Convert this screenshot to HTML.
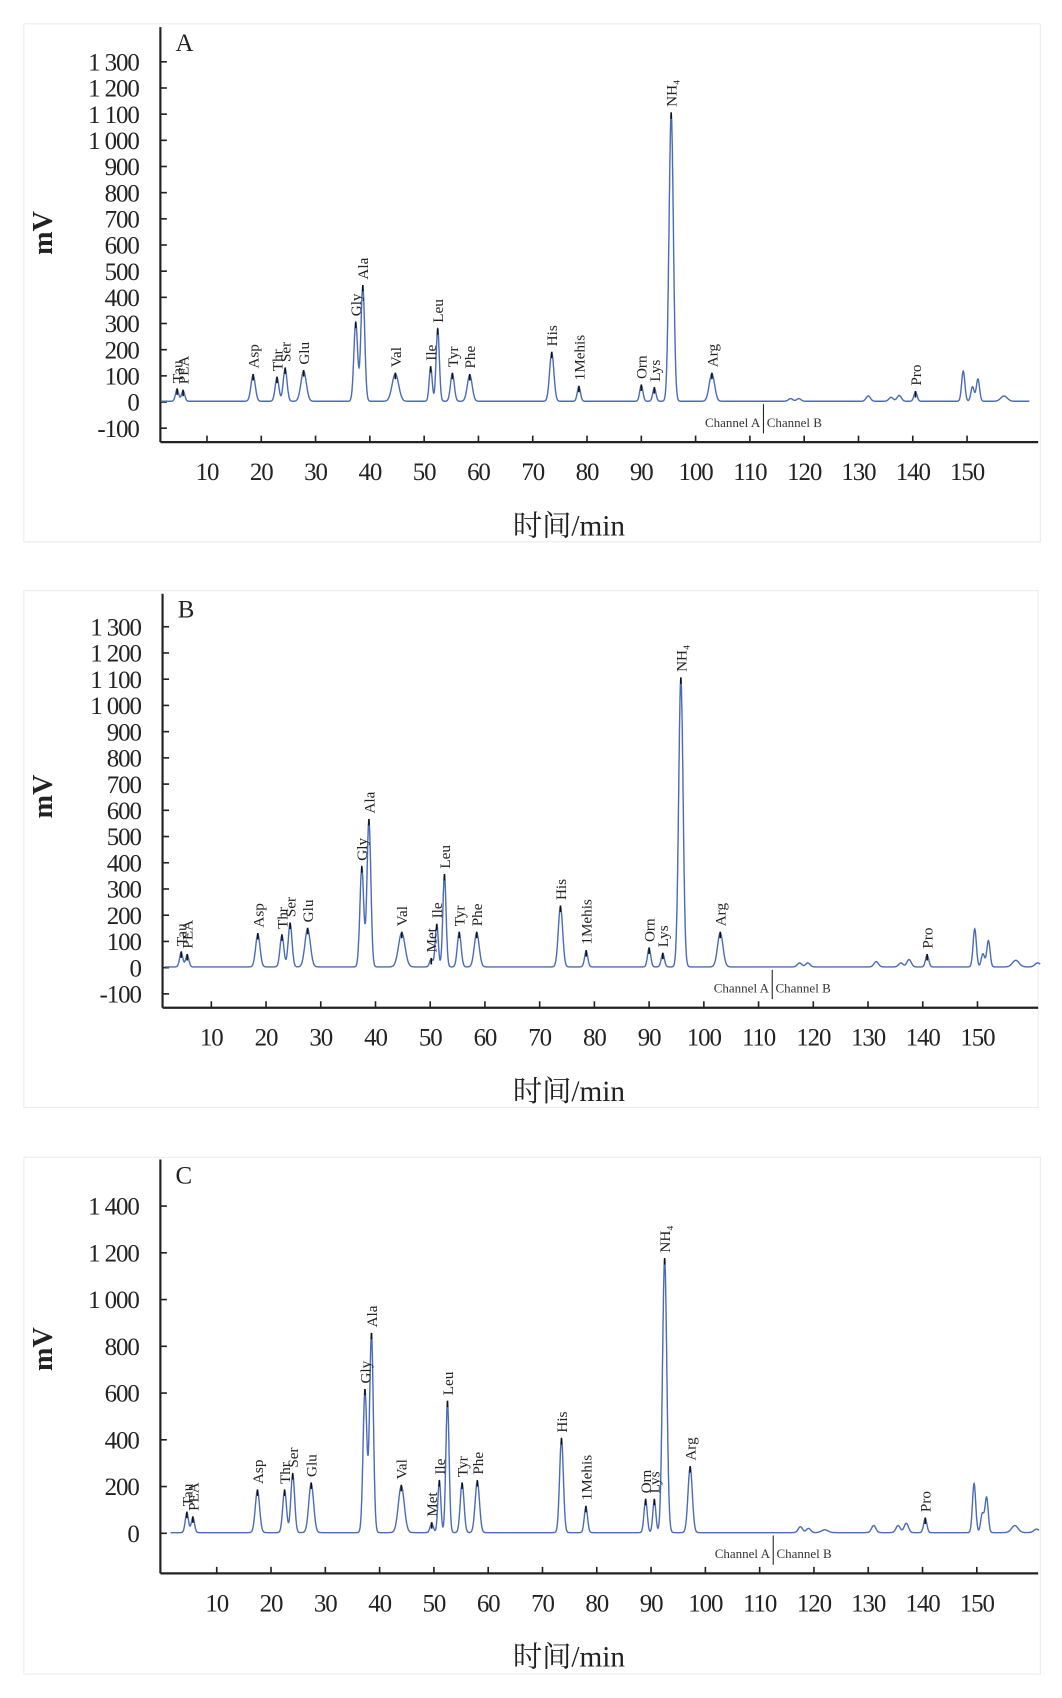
<!DOCTYPE html>
<html><head><meta charset="utf-8"><style>
html,body{margin:0;padding:0;background:#fff;}
svg{display:block;}
</style></head><body>
<svg id="s" width="1062" height="1698" viewBox="0 0 980 1567" preserveAspectRatio="none" xmlns="http://www.w3.org/2000/svg">
<rect x="0" y="0" width="980" height="1567" fill="#fff"/>
<rect x="22" y="22" width="938" height="478" fill="#fff" stroke="#ececec"/>
<rect x="22" y="545" width="936" height="477" fill="#fff" stroke="#ececec"/>
<rect x="22" y="1068" width="938" height="477" fill="#fff" stroke="#ececec"/>
<g id="g"></g>
</svg>
<script>
var NS="http://www.w3.org/2000/svg";var G=document.getElementById("g");
function el(t,a,txt){var e=document.createElementNS(NS,t);for(var k in a)e.setAttribute(k,a[k]);if(txt!==undefined)e.textContent=txt;G.appendChild(e);return e;}
function panel(P){
 var X=function(t){return P.x10+(t-10)*P.px10/10;};
 var Y=function(v){return P.y0-v*P.pxu;};
 el("line",{x1:P.ax,y1:P.top,x2:P.ax,y2:P.base,stroke:"#222","stroke-width":2});
 el("line",{x1:P.ax,y1:P.base,x2:958,y2:P.base,stroke:"#222","stroke-width":2});
 P.yt.forEach(function(v,i){var y=Y(v);el("line",{x1:P.ax,y1:y,x2:P.ax+6,y2:y,stroke:"#222","stroke-width":1.5});
  el("text",{x:P.ax-20,y:y+8,"text-anchor":"end","font-family":"Liberation Serif,serif","font-size":23,fill:"#222","letter-spacing":"-1"},P.yl[i]);});
 for(var t=10;t<=150;t+=10){var x=X(t);el("line",{x1:x,y1:P.base,x2:x,y2:P.base-6,stroke:"#222","stroke-width":1.5});
  el("text",{x:x,y:P.base+35,"text-anchor":"middle","font-family":"Liberation Serif,serif","font-size":23,fill:"#222","letter-spacing":"-1"},String(t));}
 el("text",{x:P.ax+14,y:P.top+22,"font-family":"Liberation Serif,serif","font-size":23,fill:"#222"},P.name);
 el("text",{x:0,y:0,transform:"translate(48,"+P.mvy+") rotate(-90)","text-anchor":"middle","font-family":"Liberation Serif,serif","font-size":26,"font-weight":"bold",fill:"#222"},"mV");
 el("text",{x:525,y:P.base+86,"text-anchor":"middle","font-family":"Liberation Serif,Noto Serif CJK SC,serif","font-size":27,fill:"#222"},"时间/min");
 var dx=X(112.5);
 el("line",{x1:dx,y1:P.base-35,x2:dx,y2:P.base-8,stroke:"#222","stroke-width":1});
 el("text",{x:dx-3,y:P.base-14,"text-anchor":"end","font-family":"Liberation Serif,serif","font-size":12,fill:"#333"},"Channel A");
 el("text",{x:dx+3,y:P.base-14,"font-family":"Liberation Serif,serif","font-size":12,fill:"#333"},"Channel B");
 var d="";for(var t=1.5;t<=161.5;t+=0.05){var v=3;P.pk.forEach(function(p){var s=p[2]||0.35;v+=p[1]*Math.exp(-Math.pow((t-p[0])/s,2)/2);});
  d+=(d?"L":"M")+X(t).toFixed(1)+" "+Y(v).toFixed(1);}
 el("path",{d:d,fill:"none",stroke:"#4a6cb8","stroke-width":1.3});
 P.pk.forEach(function(p){if(!p[3])return;var x=X(p[0]),y=Y(p[1]+3);
  el("line",{x1:x,y1:y-1,x2:x,y2:y+5,stroke:"#111","stroke-width":1.5});
  el("text",{x:0,y:0,transform:"translate("+(x+5)+","+(y-6)+") rotate(-90)","font-family":"Liberation Serif,serif","font-size":14,fill:"#222"},p[3]);});
}
var yA=[1300,1200,1100,1000,900,800,700,600,500,400,300,200,100,0,-100];
var lA=["1 300","1 200","1 100","1 000","900","800","700","600","500","400","300","200","100","0","-100"];
panel({name:"A",ax:148,top:25,base:408,y0:371,pxu:0.2415,x10:191,px10:50.1,yt:yA,yl:lA,mvy:215,
pk:[[4.5,45,0.3,"Tau"],[5.6,40,0.3,"PEA"],[18.5,100,0.4,"Asp"],[22.9,90,0.35,"Thr"],[24.4,125,0.35,"Ser"],[27.8,115,0.5,"Glu"],[37.4,300,0.35,"Gly"],[38.7,440,0.35,"Ala"],[44.7,105,0.6,"Val"],[51.2,130,0.28,"Ile"],[52.5,275,0.3,"Leu"],[55.2,105,0.35,"Tyr"],[58.4,100,0.45,"Phe"],[73.5,185,0.4,"His"],[78.5,55,0.3,"1Mehis"],[90,60,0.3,"Orn"],[92.4,50,0.3,"Lys"],[95.5,1100,0.4,"NH₄"],[103,105,0.5,"Arg"],[117.5,10,0.4],[119,10,0.4],[131.8,20,0.4],[136,15,0.4],[137.5,22,0.4],[140.5,35,0.3,"Pro"],[149.3,115,0.3],[151,55,0.3],[152,85,0.3],[156.8,20,0.6]]});
panel({name:"B",ax:150,top:548,base:930,y0:893,pxu:0.242,x10:195,px10:50.5,yt:yA,yl:lA,mvy:735,
pk:[[4.5,55,0.3,"Tau"],[5.6,45,0.3,"PEA"],[18.5,125,0.4,"Asp"],[22.9,120,0.35,"Thr"],[24.4,165,0.35,"Ser"],[27.6,145,0.5,"Glu"],[37.5,380,0.35,"Gly"],[38.8,560,0.35,"Ala"],[44.8,130,0.6,"Val"],[50.2,30,0.3,"Met"],[51.2,160,0.28,"Ile"],[52.6,350,0.3,"Leu"],[55.3,130,0.35,"Tyr"],[58.5,130,0.45,"Phe"],[73.8,230,0.4,"His"],[78.5,60,0.3,"1Mehis"],[90,70,0.3,"Orn"],[92.5,50,0.3,"Lys"],[95.8,1100,0.4,"NH₄"],[103,130,0.5,"Arg"],[117.5,15,0.4],[119,15,0.4],[131.5,20,0.4],[136,15,0.4],[137.5,28,0.4],[140.8,45,0.3,"Pro"],[149.5,145,0.3],[151,50,0.3],[152,100,0.3],[157,25,0.6],[161,15,0.5]]});
panel({name:"C",ax:148,top:1070,base:1452,y0:1415,pxu:0.2157,x10:200,px10:50.1,
yt:[1400,1200,1000,800,600,400,200,0],yl:["1 400","1 200","1 000","800","600","400","200","0"],mvy:1245,
pk:[[4.5,85,0.3,"Tau"],[5.6,65,0.3,"PEA"],[17.5,180,0.4,"Asp"],[22.5,180,0.35,"Thr"],[24,250,0.35,"Ser"],[27.4,210,0.45,"Glu"],[37.3,610,0.35,"Gly"],[38.5,850,0.35,"Ala"],[44,200,0.55,"Val"],[49.6,40,0.3,"Met"],[51,220,0.28,"Ile"],[52.5,560,0.3,"Leu"],[55.2,210,0.35,"Tyr"],[58,220,0.4,"Phe"],[73.5,400,0.35,"His"],[78,110,0.3,"1Mehis"],[89,140,0.3,"Orn"],[90.6,140,0.28,"Lys"],[92.5,1170,0.4,"NH₄"],[97.2,280,0.4,"Arg"],[117.5,25,0.4],[119,18,0.4],[122,12,0.6],[131,30,0.4],[135.5,30,0.4],[137,40,0.4],[140.5,60,0.3,"Pro"],[149.5,210,0.3],[151,80,0.3],[151.8,150,0.3],[157,30,0.6],[161,15,0.5]]});
</script>
</body></html>
